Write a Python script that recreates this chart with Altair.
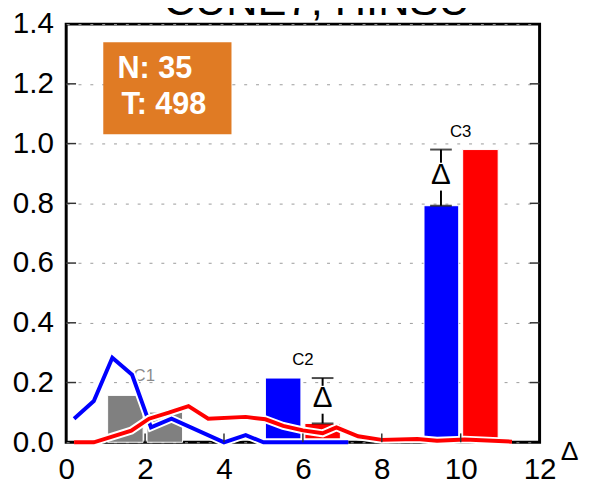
import altair as alt
import pandas as pd

# ---- data ----
title_text = ["CUNE7, HINSU"]

blue_x = [0.2, 0.7, 1.17, 1.67, 2.15, 2.67, 4.0, 4.55, 5.0, 7.15]
blue_y = [0.079, 0.138, 0.283, 0.226, 0.05, 0.079, 0.0, 0.024, 0.0, 0.0]
red_x = [0.2, 0.7, 1.65, 2.1, 2.6, 3.1, 3.6, 4.55, 5.05, 5.5, 6.0, 6.5, 6.85,
         7.4, 8.0, 8.9, 9.4, 10.1, 11.3]
red_y = [0.0, 0.0, 0.039, 0.079, 0.099, 0.121, 0.079, 0.085, 0.077, 0.055,
         0.04, 0.03, 0.05, 0.02, 0.008, 0.011, 0.005, 0.009, 0.002]

bar_start = [1.05, 2.05, 5.05, 6.05, 9.07, 10.05]
bar_end = [1.95, 2.95, 5.95, 6.95, 9.95, 10.95]
bar_value = [0.157, 0.101, 0.215, 0.063, 0.792, 0.98]
bar_color = ["#808080", "#808080", "#0000FF", "#FF0000", "#0000FF", "#FF0000"]

group_labels = ["C1", "C2", "C3"]
group_x = [1.98, 6.0, 10.0]
group_y = [0.22, 0.275, 1.037]
group_color = ["#8a8a8a", "#000000", "#000000"]

err_x = [6.5, 9.5]
err_lo = [0.063, 0.792]
err_hi = [0.215, 0.98]

box_x = [0.94]
box_x2 = [4.19]
box_y = [1.031]
box_y2 = [1.339]
info_text = ["N: 35", "T: 498"]
info_x = [1.3, 1.4]
info_y = [1.218, 1.100]

x_ticks = [0, 2, 4, 6, 8, 10, 12]
y_ticks = [0.0, 0.2, 0.4, 0.6, 0.8, 1.0, 1.2, 1.4]
x_inner_ticks = [2, 4, 6, 8, 10]
y_inner_ticks = [0.2, 0.4, 0.6, 0.8, 1.0, 1.2]

W, H = 480, 424
FONT = "Liberation Sans"

xs = alt.Scale(domain=[0, 12], nice=False, zero=False)
ys = alt.Scale(domain=[0, 1.4], nice=False, zero=False)

x_axis = alt.Axis(values=x_ticks, grid=False, domain=False, ticks=False,
                  labelFontSize=30, labelFont=FONT, labelColor="black",
                  labelPadding=13, labelFlush=False, labelOverlap=False,
                  format="d", title="Δ", titleFont=FONT,
                  titleFontSize=27, titleFontWeight="normal", titleColor="black",
                  titleX=501, titleY=9, titleAlign="left", titleBaseline="middle",
                  titleAngle=0)
y_axis = alt.Axis(values=y_ticks, grid=True, gridDash=[3, 9], gridColor="#9a9a9a",
                  gridWidth=1, domain=False, ticks=False, labelFontSize=30,
                  labelFont=FONT, labelColor="black", labelPadding=13,
                  labelFlush=False, labelOverlap=False,
                  format=".1f", title=None)

bars_df = pd.DataFrame({"x": bar_start, "x2": bar_end, "v": bar_value, "c": bar_color})
bars = alt.Chart(bars_df).mark_rect(stroke="white", strokeWidth=1).encode(
    x=alt.X("x:Q", scale=xs, axis=x_axis),
    x2="x2:Q",
    y=alt.Y("v:Q", scale=ys, axis=y_axis),
    y2=alt.datum(0),
    color=alt.Color("c:N", scale=None),
)

lab_df = pd.DataFrame({"t": group_labels, "x": group_x, "y": group_y, "c": group_color})
labels = alt.Chart(lab_df).mark_text(font=FONT, fontSize=17, baseline="middle",
                                     align="center").encode(
    x=alt.X("x:Q", scale=xs), y=alt.Y("y:Q", scale=ys), text="t:N",
    color=alt.Color("c:N", scale=None))

blue_df = pd.DataFrame({"x": blue_x, "y": blue_y})
red_df = pd.DataFrame({"x": red_x, "y": red_y})


def line(df, color, width):
    return alt.Chart(df).mark_line(color=color, strokeWidth=width,
                                   strokeJoin="miter").encode(
        x=alt.X("x:Q", scale=xs), y=alt.Y("y:Q", scale=ys))


blue_o = line(blue_df, "white", 8)
blue_l = line(blue_df, "#0000FF", 4)
red_o = line(red_df, "white", 8)
red_l = line(red_df, "#FF0000", 4)

err_df = pd.DataFrame({"x": err_x, "lo": err_lo, "hi": err_hi})
err_base = alt.Chart(err_df).transform_calculate(mid="(datum.lo + datum.hi) / 2")
err_rule = err_base.mark_rule(color="black", strokeWidth=2).encode(
    x=alt.X("x:Q", scale=xs), y=alt.Y("lo:Q", scale=ys), y2="hi:Q")
cap_lo = err_base.mark_tick(orient="horizontal", color="black", size=22,
                            thickness=2).encode(
    x=alt.X("x:Q", scale=xs), y=alt.Y("lo:Q", scale=ys))
cap_hi = err_base.mark_tick(orient="horizontal", color="black", size=22,
                            thickness=2).encode(
    x=alt.X("x:Q", scale=xs), y=alt.Y("hi:Q", scale=ys))
err_bg = err_base.mark_point(shape="square", filled=True, color="white",
                             opacity=1, size=800, strokeWidth=0, yOffset=-1).encode(
    x=alt.X("x:Q", scale=xs), y=alt.Y("mid:Q", scale=ys))
err_delta = err_base.mark_text(text="Δ", font=FONT, fontSize=30, color="black",
                               baseline="middle", align="center", dy=-3).encode(
    x=alt.X("x:Q", scale=xs), y=alt.Y("mid:Q", scale=ys))

box_df = pd.DataFrame({"x": box_x, "x2": box_x2, "y": box_y, "y2": box_y2})
box = alt.Chart(box_df).mark_rect(color="#E07B24").encode(
    x=alt.X("x:Q", scale=xs), x2="x2:Q", y=alt.Y("y:Q", scale=ys), y2="y2:Q")
info_df = pd.DataFrame({"t": info_text, "x": info_x, "y": info_y})
info = alt.Chart(info_df).mark_text(font=FONT, fontSize=31, fontWeight="bold",
                                    color="white", align="left",
                                    baseline="alphabetic").encode(
    x=alt.X("x:Q", scale=xs), y=alt.Y("y:Q", scale=ys), text="t:N")

yt_df = pd.DataFrame({"y": y_inner_ticks})
xt_df = pd.DataFrame({"x": x_inner_ticks})
tick_l = alt.Chart(yt_df).mark_rule(color="#333333", strokeWidth=1.5).encode(
    y=alt.Y("y:Q", scale=ys), x=alt.value(0), x2=alt.value(10))
tick_r = alt.Chart(yt_df).mark_rule(color="#333333", strokeWidth=1.5).encode(
    y=alt.Y("y:Q", scale=ys), x=alt.value(W - 10), x2=alt.value(W))
tick_b = alt.Chart(xt_df).mark_rule(color="#333333", strokeWidth=1.5).encode(
    x=alt.X("x:Q", scale=xs), y=alt.value(H - 9), y2=alt.value(H))

title_df = pd.DataFrame({"t": title_text})
title = alt.Chart(title_df).mark_text(font=FONT, fontSize=44, color="black",
                                      align="center", baseline="alphabetic").encode(
    text="t:N", x=alt.value(W / 2 + 14), y=alt.value(-9))

chart = alt.layer(
    bars, labels, blue_o, blue_l, red_o, red_l,
    err_rule, cap_lo, cap_hi, err_bg, err_delta,
    box, info, tick_l, tick_r, tick_b, title,
).properties(
    width=W, height=H,
    autosize=alt.AutoSizeParams(type="none"),
    padding={"left": 59, "top": 13, "right": 43, "bottom": 41},
).configure_view(stroke="black", strokeWidth=3)

chart.save("out.html", embed_options={"renderer": "svg", "actions": False})
